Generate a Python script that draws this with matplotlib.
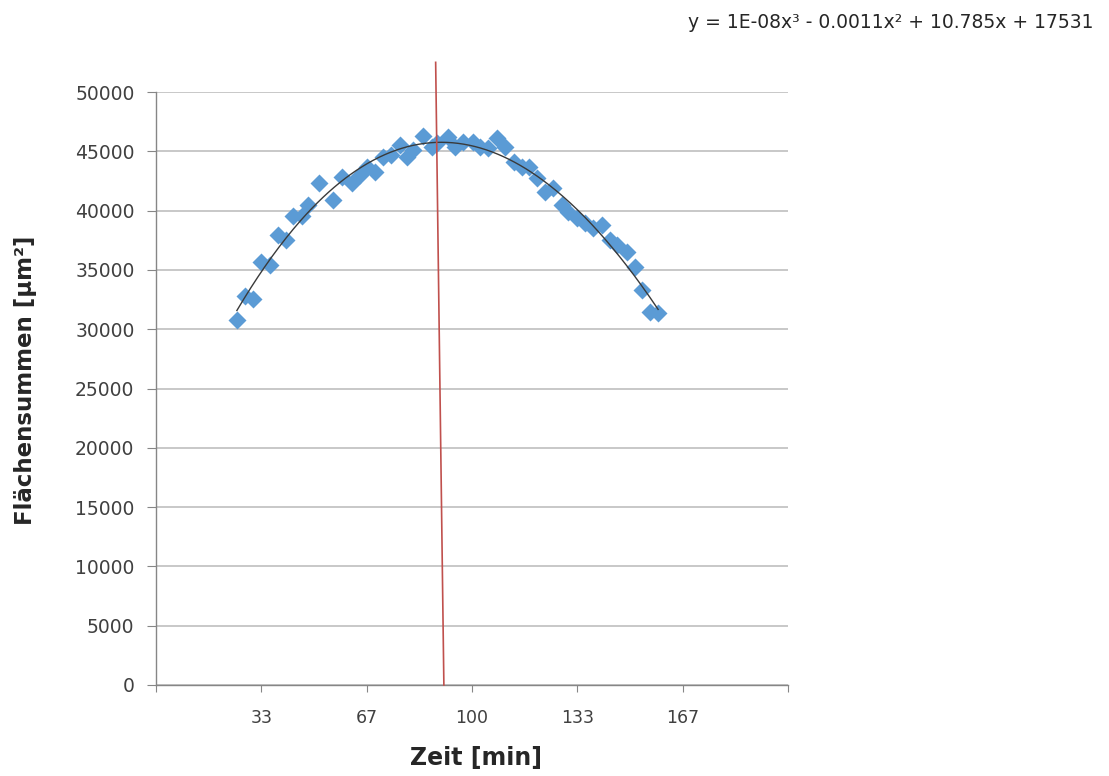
import numpy as np
import matplotlib
matplotlib.use("Agg")
import matplotlib.pyplot as plt

# ---- data ----
zeit = [25.6, 28.2, 30.7, 33.2, 36.1, 38.6, 41.1, 43.4, 46.2, 48.1,
        51.6, 56.0, 58.9, 62.0, 64.6, 66.8, 69.3, 71.8, 74.4, 77.2,
        79.4, 81.3, 84.5, 87.3, 88.9, 92.4, 94.6, 97.2, 100.3, 102.5,
        105.1, 107.9, 110.4, 113.3, 115.8, 118.0, 120.6, 123.1, 125.6, 128.5,
        130.4, 133.2, 135.8, 138.3, 141.1, 143.7, 145.9, 149.1, 151.6, 153.8,
        156.3, 158.9]
flaeche = [30780, 32800, 32550, 35670, 35410, 37940, 37520, 39550, 39550, 40470,
           42330, 40900, 42830, 42330, 43000, 43680, 43260, 44520, 44690, 45530,
           44520, 45110, 46290, 45360, 45700, 46210, 45360, 45790, 45790, 45360,
           45280, 46120, 45360, 44100, 43680, 43680, 42750, 41570, 41910, 40470,
           39880, 39380, 38960, 38540, 38790, 37520, 37100, 36510, 35250, 33310,
           31450, 31370]

x_ticks = [0, 100 / 3, 200 / 3, 100, 400 / 3, 500 / 3, 200]
x_tick_labels = ["", "33", "67", "100", "133", "167", ""]
y_ticks = list(range(0, 50001, 5000))

marker_line_x = [88.5, 91.1]
marker_line_y = [52500, 0]

equation = "y = 1E-08x³ - 0.0011x² + 10.785x + 17531"
x_label = "Zeit [min]"
y_label = "Flächensummen [µm²]"

# ---- figure ----
plt.rcParams["font.family"] = ["DejaVu Sans"]
fig = plt.figure(figsize=(11.09, 7.76), dpi=100)
ax = fig.add_axes([156 / 1109, 91 / 776, 632 / 1109, 593 / 776])
ax.set_xlim(0, 200)
ax.set_ylim(0, 50000)

ax.grid(axis="y", color="#BFBFBF", lw=1.2)
ax.set_axisbelow(True)

ax.plot(zeit, flaeche, linestyle="none", marker="D", color="#5B9BD5",
        ms=9.5, mec="none", zorder=2)

coef = np.polyfit(zeit, flaeche, 3)
xs = np.linspace(min(zeit), max(zeit), 300)
ax.plot(xs, np.polyval(coef, xs), color="#3A3A3A", lw=1.0, zorder=3)

ax.plot(marker_line_x, marker_line_y, color="#C0504D", lw=1.2,
        clip_on=False, zorder=4)

for s in ["top", "right"]:
    ax.spines[s].set_visible(False)
for s in ["left", "bottom"]:
    ax.spines[s].set_color("#868686")
    ax.spines[s].set_linewidth(1.0)

ax.set_xticks(x_ticks)
ax.set_xticklabels(x_tick_labels)
ax.set_yticks(y_ticks)
ax.set_yticklabels([str(v) for v in y_ticks])
ax.tick_params(axis="y", direction="out", length=6.5, color="#868686",
               labelsize=13.5, labelcolor="#404040", pad=9)
ax.tick_params(axis="x", direction="out", length=5, color="#868686",
               labelsize=12.5, labelcolor="#404040", pad=12)

fig.text(26 / 1109, 1 - 380 / 776, y_label, rotation=90, ha="center",
         va="center", fontsize=16.5, fontweight="bold", color="#262626")
fig.text(476 / 1109, 1 - 758 / 776, x_label, ha="center", va="center",
         fontsize=17, fontweight="bold", color="#262626")
fig.text(1093 / 1109, 1 - 22 / 776, equation, ha="right", va="center",
         fontsize=13.5, color="#262626")

fig.savefig("out.png", dpi=100)
